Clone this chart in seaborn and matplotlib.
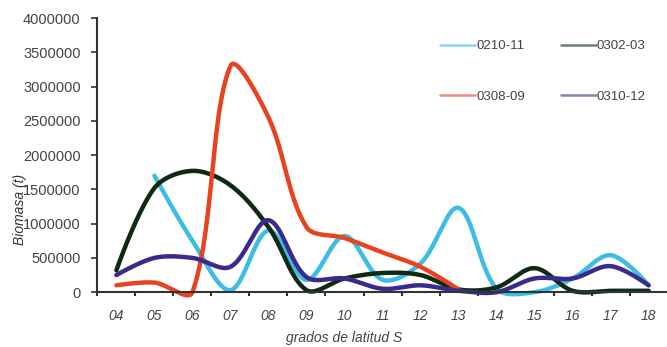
import numpy as np
import pandas as pd
import matplotlib
matplotlib.use('Agg')
import matplotlib.pyplot as plt
import seaborn as sns
from matplotlib.ticker import FuncFormatter, MultipleLocator

lat = ['04', '05', '06', '07', '08', '09', '10', '11', '12', '13', '14', '15', '16', '17', '18']

s0210_11 = [np.nan, 1700000, 750000, 30000, 900000, 180000, 820000, 180000, 420000, 1230000, 50000, 0, 200000, 540000, 100000]
s0302_03 = [320000, 1520000, 1770000, 1560000, 950000, 30000, 200000, 280000, 250000, 40000, 70000, 350000, 20000, 20000, 20000]
s0308_09 = [100000, 140000, 0, 3300000, 2550000, 950000, 790000, 580000, 370000, 40000, np.nan, np.nan, np.nan, np.nan, np.nan]
s0310_12 = [250000, 500000, 500000, 370000, 1050000, 220000, 200000, 50000, 100000, 20000, 0, 200000, 200000, 380000, 100000]

series = {'0210-11': s0210_11, '0302-03': s0302_03, '0308-09': s0308_09, '0310-12': s0310_12}
colors = {'0210-11': '#3dbde6', '0302-03': '#0d2b12', '0308-09': '#e8421e', '0310-12': '#3b2a8e'}

# pixel scale of one x step and of one unit of y, for the chord lengths
XS, YS = 38.0, 274.0 / 4000000


def smooth(xs, ys, n=40, k=1 / 3):
    # spreadsheet-like smoothed line: bezier pieces, control points weighted by chord length
    P = np.column_stack([xs * XS, ys * YS])
    m = len(P)
    cin, cout = P.copy(), P.copy()
    for i in range(1, m - 1):
        d0 = np.linalg.norm(P[i] - P[i - 1])
        d1 = np.linalg.norm(P[i + 1] - P[i])
        tan = P[i + 1] - P[i - 1]
        cin[i] = P[i] - k * d0 / (d0 + d1) * tan
        cout[i] = P[i] + k * d1 / (d0 + d1) * tan
    pts = []
    for i in range(m - 1):
        t = np.linspace(0, 1, n, endpoint=(i == m - 2))[:, None]
        b = ((1 - t) ** 3 * P[i] + 3 * (1 - t) ** 2 * t * cout[i]
             + 3 * (1 - t) * t ** 2 * cin[i + 1] + t ** 3 * P[i + 1])
        pts.append(b)
    pts = np.vstack(pts)
    return pts[:, 0] / XS, pts[:, 1] / YS


rows = []
for name, vals in series.items():
    v = np.array(vals, dtype=float)
    idx = np.where(~np.isnan(v))[0]
    sx, sy = smooth(idx.astype(float), v[idx])
    rows.append(pd.DataFrame({'x': sx, 'y': sy, 'serie': name}))
df = pd.concat(rows, ignore_index=True)

sns.set_style('ticks')
plt.rcParams['font.family'] = ['Liberation Sans', 'DejaVu Sans']

fig = plt.figure(figsize=(6.67, 3.47), dpi=100)
ax = fig.add_axes([0.146, 0.158, 0.855, 0.79])

for name in series:
    d = df[df.serie == name]
    sns.lineplot(x=d.x, y=d.y, sort=False, estimator=None, color=colors[name],
                 linewidth=3.2, ax=ax, clip_on=False, label=name)

ax.set_xlim(-0.5, 14.5)
ax.set_ylim(0, 4000000)
ax.yaxis.set_major_locator(MultipleLocator(500000))
ax.yaxis.set_major_formatter(FuncFormatter(lambda v, p: '%d' % v))
ax.set_xticks(range(len(lat)))
ax.set_xticklabels(lat, fontstyle='italic')
ax.set_xticks(np.arange(-0.5, 15, 1), minor=True)
ax.tick_params(axis='x', which='major', length=0, pad=12, labelsize=10, labelcolor='#444444')
ax.tick_params(axis='x', which='minor', length=3, width=1.5, color='#333333', direction='out')
ax.tick_params(axis='y', length=4, width=1.2, color='#333333', labelsize=10.5, labelcolor='#444444', pad=8)
sns.despine(ax=ax)
for s in ('left', 'bottom'):
    ax.spines[s].set_color('#333333')
    ax.spines[s].set_linewidth(1.5)

ax.set_xlabel('grados de latitud S', fontstyle='italic', fontsize=10, color='#444444')
ax.xaxis.set_label_coords(0.432, -0.142)
ax.set_ylabel('Biomasa (t)', fontstyle='italic', fontsize=10, color='#333333')
ax.yaxis.set_label_coords(-0.124, 0.30)

h, l = ax.get_legend_handles_labels()
order = [0, 2, 1, 3]
leg = ax.legend([h[i] for i in order], [l[i] for i in order], ncol=2, loc='upper left',
                bbox_to_anchor=(440 / 667, 1 - 40 / 347), bbox_transform=fig.transFigure,
                frameon=False, borderpad=0, borderaxespad=0,
                fontsize=9.5, labelspacing=2.9, columnspacing=2.7, handlelength=2.65,
                handletextpad=0.1)
for line in leg.get_lines():
    line.set_linewidth(1.8)
    line.set_alpha(0.6)
for t in leg.get_texts():
    t.set_color('#444444')

fig.savefig('out.png', dpi=100)
